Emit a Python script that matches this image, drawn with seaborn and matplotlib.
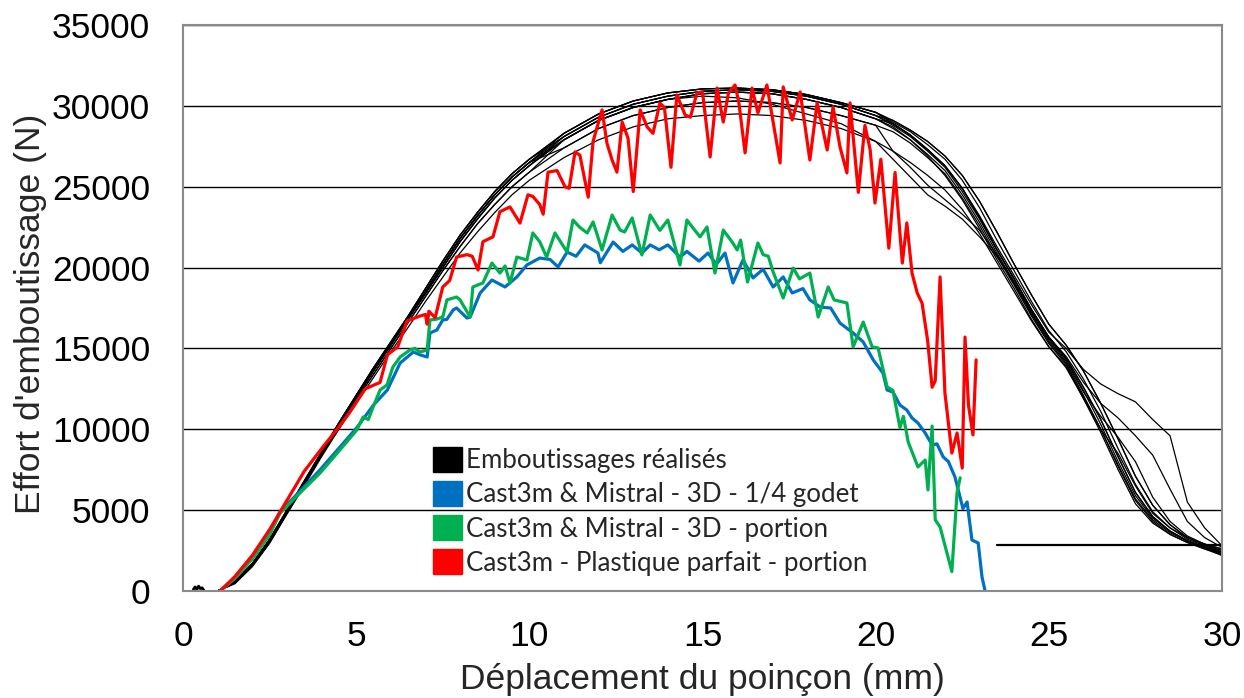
import matplotlib
matplotlib.use("Agg")
import matplotlib.pyplot as plt
from matplotlib.patches import Patch
import seaborn as sns
import pandas as pd

sns.set_theme(style="white")
plt.rcParams['font.family'] = ['Liberation Sans', 'DejaVu Sans']

# ---------------- data ----------------
x_ticks = [0, 5, 10, 15, 20, 25, 30]
y_ticks = [0, 5000, 10000, 15000, 20000, 25000, 30000, 35000]
legend_labels = ["Emboutissages réalisés",
                 "Cast3m & Mistral - 3D - 1/4 godet",
                 "Cast3m & Mistral - 3D - portion",
                 "Cast3m - Plastique parfait - portion"]
legend_colors = ["#000000", "#0070C0", "#00B050", "#FF0000"]

# experimental curves: common displacement grid
exp_x = [1.0, 1.5, 2, 2.5, 3, 3.5, 4, 4.5, 5, 5.5, 6, 6.5, 7, 7.5, 8, 8.5, 9, 9.5, 10,
         11, 12, 13, 14, 15, 16, 17, 18, 19, 20,
         20.5, 21, 21.5, 22, 22.5, 23, 23.5, 24, 24.5, 25, 25.5, 26, 26.5, 27, 27.5,
         28, 28.5, 29, 29.5, 30]
# rising part (x = 1 .. 10)
rise1 = [0, 600, 1700, 3200, 5000, 6800, 8600, 10400, 12100, 13800, 15400, 17000, 18700, 20400, 22000, 23400, 24700, 25800, 26700]
rise2 = [0, 550, 1650, 3100, 4900, 6700, 8500, 10300, 12000, 13700, 15300, 16900, 18500, 20200, 21800, 23200, 24500, 25600, 26500]
rise3 = [0, 500, 1600, 3050, 4850, 6650, 8450, 10250, 11950, 13600, 15200, 16800, 18400, 20000, 21600, 23000, 24300, 25400, 26300]
rise4 = [0, 500, 1550, 3000, 4800, 6600, 8400, 10100, 11800, 13400, 15000, 16600, 18200, 19800, 21300, 22700, 23900, 25000, 25900]
rise5 = [0, 450, 1500, 2950, 4750, 6500, 8300, 10000, 11600, 13200, 14800, 16300, 17900, 19400, 20900, 22200, 23400, 24500, 25400]
# plateau (x = 11 .. 20)
mid1 = [28300, 29500, 30300, 30800, 31050, 31100, 31000, 30700, 30200, 29600]
mid2 = [28100, 29300, 30100, 30600, 30900, 31000, 30900, 30600, 30100, 29400]
mid3 = [27900, 29100, 29900, 30400, 30750, 30850, 30750, 30400, 29900, 29200]
mid4 = [27400, 28600, 29400, 29900, 30200, 30300, 30200, 29900, 29400, 28800]
mid5 = [26800, 27900, 28700, 29200, 29400, 29500, 29400, 29100, 28600, 27800]
mid_sh = [27900, 29100, 29900, 30400, 30600, 30500, 30100, 29500, 28900, 27800]
# descent (x = 20.5 .. 30)
tail_a = [28700, 27900, 26900, 25700, 24200, 22400, 20500, 18700, 16800, 15100, 13800, 11900, 9800, 7500, 5400, 4200, 3500, 3000, 2600, 2300]
tail_b = [28900, 28200, 27300, 26300, 24900, 23100, 21100, 19300, 17400, 15700, 14400, 12600, 10600, 8300, 6100, 4600, 3700, 3100, 2700, 2400]
tail_c = [29000, 28400, 27600, 26700, 25400, 23700, 21700, 19800, 17900, 16100, 14800, 13100, 11100, 8800, 6600, 4900, 3900, 3200, 2800, 2500]
tail_d = [29100, 28500, 27800, 26900, 25700, 24100, 22200, 20200, 18300, 16500, 15200, 13600, 11600, 9400, 7100, 5300, 4100, 3300, 2900, 2600]
tail_bump = [28900, 28200, 27300, 26300, 24900, 23200, 21300, 19500, 17700, 16000, 15000, 13700, 12800, 12200, 11700, 10600, 9600, 5500, 3900, 2800]
tail_late1 = [28800, 28100, 27200, 26200, 24700, 23000, 21100, 19300, 17400, 15700, 14500, 12900, 11600, 10700, 9600, 8400, 6300, 4300, 3300, 2700]
tail_late2 = [28600, 27900, 27000, 26000, 24500, 22800, 20900, 19100, 17200, 15500, 14200, 12300, 10800, 9500, 8000, 5800, 4300, 3400, 2900, 2500]
tail_late3 = [28400, 27700, 26800, 25800, 24300, 22600, 20700, 18900, 17000, 15300, 14000, 11900, 10000, 8500, 6500, 4800, 3900, 3300, 2800, 2400]
tail_low = [27200, 26500, 25700, 24800, 23600, 22100, 20300, 18500, 16700, 15100, 13900, 12000, 10000, 7800, 5700, 4400, 3600, 3100, 2700, 2200]
tail_sh1 = [26700, 25600, 24500, 23800, 23000, 21900, 20700, 19100, 17300, 15600, 14300, 12400, 10300, 8000, 5900, 4500, 3700, 3100, 2700, 2300]
tail_sh2 = [27200, 26200, 25100, 24200, 23300, 22300, 20800, 19000, 17100, 15400, 14100, 12100, 10000, 7700, 5600, 4300, 3500, 3000, 2600, 2200]

exp_curves = [
    rise1 + mid1 + tail_c,
    rise2 + mid2 + tail_b,
    rise3 + mid3 + tail_a,
    rise1 + mid2 + tail_d,
    rise2 + mid1 + tail_bump,
    rise3 + mid2 + tail_late1,
    rise4 + mid3 + tail_late2,
    rise2 + mid4 + tail_late3,
    rise5 + mid5 + tail_low,
    rise3 + mid_sh + tail_sh1,
    rise4 + mid4 + tail_sh2,
    rise2 + mid3 + tail_b,
    rise1 + mid1 + tail_d,
]
flat_x = [23.5, 30.0]
flat_y = [2850, 2850]
start_x = [0.3, 0.35, 0.4, 0.45, 0.5, 0.55, 0.6]
start_y = [100, 250, 100, 300, 150, 200, 50]

red_x = [1.07, 1.5, 2.0, 2.5, 3.0, 3.5, 4.0, 4.45, 4.8, 5.26, 5.69, 5.9, 6.2, 6.47, 6.84, 7.0, 7.05, 7.1, 7.28,
         7.5, 7.7, 7.9, 8.2, 8.35, 8.52, 8.66, 8.95, 9.15, 9.44, 9.73, 9.96, 10.1, 10.3, 10.4, 10.54, 10.8,
         11.03, 11.15, 11.32, 11.46, 11.7, 11.84, 12.1, 12.24, 12.39, 12.53, 12.68, 12.85, 13.0, 13.2, 13.4,
         13.57, 13.77, 13.9, 14.09, 14.26, 14.5, 14.65, 14.84, 15.0, 15.22, 15.42, 15.6, 15.75, 15.94, 16.05,
         16.23, 16.43, 16.6, 16.86, 17.0, 17.24, 17.33, 17.59, 17.82, 18.1, 18.31, 18.45, 18.6, 18.77, 18.97,
         19.17, 19.26, 19.5, 19.69, 19.84, 19.98, 20.15, 20.38, 20.56, 20.77, 20.9, 21.05, 21.2, 21.34, 21.5,
         21.63, 21.72, 21.86, 22.0, 22.2, 22.35, 22.5, 22.58, 22.68, 22.81, 22.9]
red_y = [0, 900, 2200, 3800, 5600, 7400, 8800, 10000, 11000, 12500, 12900, 14600, 15100, 16700, 17000, 17100, 16500, 17300, 16900,
         18800, 19200, 20650, 20800, 20700, 19850, 21600, 21900, 23450, 23750, 22750, 24500, 24400, 23900, 23300, 25900, 26000,
         25000, 24900, 27150, 26950, 24350, 27800, 29750, 27700, 26650, 25900, 29000, 28000, 24700, 29750, 28700,
         28300, 30170, 29900, 26200, 30670, 29430, 29300, 30800, 30860, 26840, 31100, 29000, 30800, 31290, 30200,
         27090, 31100, 29560, 31290, 29500, 26470, 31170, 29130, 30860, 26650, 30180, 28800, 27270, 29930, 27460,
         25850, 30180, 24650, 28800, 27300, 23990, 26700, 21200, 25880, 20280, 22760, 19660, 18430, 17800, 15500,
         12600, 13000, 19420, 12240, 8530, 9770, 7600, 15700, 11500, 9650, 14290]

green_x = [1.07, 1.5, 2.0, 2.5, 2.8, 3.3, 3.96, 4.53, 5.02, 5.2, 5.35, 5.49, 5.69, 5.89, 6.06, 6.27, 6.55, 6.7, 6.84,
           7.05, 7.13, 7.3, 7.5, 7.62, 7.9, 8.0, 8.29, 8.37, 8.66, 8.92, 9.15, 9.3, 9.44, 9.64, 9.93, 10.1, 10.3,
           10.5, 10.74, 11.09, 11.26, 11.45, 11.67, 11.84, 12.1, 12.39, 12.62, 12.75, 12.97, 13.25, 13.49, 13.77,
           14.0, 14.35, 14.55, 14.78, 14.93, 15.13, 15.36, 15.6, 15.85, 16.0, 16.1, 16.3, 16.6, 16.75, 16.9, 17.04,
           17.33, 17.62, 17.8, 18.1, 18.34, 18.63, 18.8, 19.17, 19.35, 19.64, 19.9, 20.07, 20.33, 20.5, 20.7, 20.8,
           20.94, 21.22, 21.43, 21.51, 21.63, 21.72, 21.86, 22.2, 22.35, 22.44]
green_y = [0, 800, 2000, 3500, 4800, 5900, 7300, 8720, 9960, 10760, 10600, 11380, 12430, 12740, 13850, 14470, 14900, 15000, 14780,
           14900, 16760, 16800, 16940, 18000, 18180, 18000, 16940, 18800, 19050, 20280, 19660, 20100, 19050, 20650, 20470, 22140, 21600,
           20650, 22140, 20960, 22940, 22500, 22140, 22820, 21090, 23250, 22320, 22200, 23070, 20780, 23250, 22300,
           22940, 20160, 22940, 22300, 21900, 22510, 19660, 22320, 21600, 21090, 21700, 19110, 21520, 20800, 20700, 19730,
           18120, 19970, 19300, 19660, 16940, 18800, 18000, 17810, 15090, 16630, 15090, 15030, 12620, 12400, 10100, 10800,
           9210, 7670, 8100, 6250, 10200, 4400, 3960, 1200, 6100, 7000]

blue_x = [1.07, 1.5, 2.0, 2.5, 2.8, 3.3, 3.96, 4.53, 5.02, 5.5, 5.9, 6.27, 6.65, 6.85, 7.05, 7.13, 7.33, 7.5, 7.62,
          7.8, 7.9, 8.2, 8.29, 8.58, 8.92, 9.3, 9.64, 9.93, 10.3, 10.6, 10.83, 11.09, 11.35, 11.6, 11.98, 12.05,
          12.42, 12.7, 12.97, 13.25, 13.49, 13.75, 14.0, 14.35, 14.55, 14.9, 15.16, 15.4, 15.65, 15.88, 16.17,
          16.46, 16.75, 17.04, 17.33, 17.59, 17.9, 18.1, 18.4, 18.7, 18.97, 19.35, 19.64, 19.93, 20.21, 20.33,
          20.5, 20.7, 20.9, 21.05, 21.22, 21.43, 21.63, 21.77, 21.95, 22.1, 22.29, 22.52, 22.64, 22.78, 22.96,
          23.07, 23.16]
blue_y = [0, 800, 2000, 3500, 4900, 6000, 7500, 8900, 10100, 11500, 12430, 14100, 14780, 14600, 14470, 15950, 16140, 16760, 16800,
          17380, 17500, 16880, 16940, 18430, 19230, 18800, 19420, 20160, 20590, 20500, 20040, 20960, 20700, 21400, 20900, 20300,
          21580, 21000, 21400, 20900, 21400, 21100, 21400, 20650, 21000, 20400, 20900, 20200, 20900, 19050, 20470,
          19360, 19900, 18800, 19420, 18430, 18700, 18000, 17560, 17500, 16570, 15950, 15400, 14290, 13480, 12430,
          12300, 11500, 11190, 10700, 10390, 9770, 9030, 9100, 8290, 8000, 7050, 5100, 5500, 3150, 2970,
          870, 0]

# ---------------- figure ----------------
fig = plt.figure(figsize=(12.44, 6.98), dpi=100)
ax = fig.add_axes([183 / 1244, 1 - 591 / 698, (1222 - 183) / 1244, (591 - 25) / 698])

for yy in exp_curves:
    sns.lineplot(x=exp_x, y=yy, ax=ax, color="black", lw=0.9, sort=False, estimator=None)
sns.lineplot(x=flat_x, y=flat_y, ax=ax, color="black", lw=1.6, sort=False, estimator=None)
sns.lineplot(x=start_x, y=start_y, ax=ax, color="black", lw=2.0, sort=False, estimator=None)

sns.lineplot(x=blue_x, y=blue_y, ax=ax, color="#0070C0", lw=2.3, sort=False, estimator=None)
sns.lineplot(x=green_x, y=green_y, ax=ax, color="#00B050", lw=2.3, sort=False, estimator=None)
sns.lineplot(x=red_x, y=red_y, ax=ax, color="#FF0000", lw=2.3, sort=False, estimator=None)

ax.set_xlim(0, 30)
ax.set_ylim(0, 35000)
ax.set_xticks(x_ticks)
ax.set_yticks(y_ticks)
ax.set_xticklabels([str(v) for v in x_ticks])
ax.set_yticklabels([str(v) for v in y_ticks])
ax.tick_params(axis='both', length=0, labelsize=25.5, colors='black')
ax.tick_params(axis='y', pad=23.5)
ax.tick_params(axis='x', pad=21)
ax.yaxis.grid(True, color='black', lw=1.0)
ax.xaxis.grid(False)
ax.set_axisbelow(True)
for s in ax.spines.values():
    s.set_color('#8a8a8a')
    s.set_linewidth(1.5)
    s.set_visible(True)

ax.set_xlabel("Déplacement du poinçon (mm)", fontsize=25.5)
ax.set_ylabel("Effort d'emboutissage (N)", fontsize=25.5)
ax.xaxis.set_label_coords(0.5, -0.127)
ax.yaxis.set_label_coords(-0.131, 0.49)

handles = [Patch(facecolor=c, edgecolor=c) for c in legend_colors]
leg = fig.legend(handles, legend_labels, loc='upper left',
                 bbox_to_anchor=(433 / 1244, 1 - 447 / 698), frameon=False,
                 borderpad=0, borderaxespad=0, handlelength=1.12, handleheight=1.12,
                 handletextpad=0.15, labelspacing=0.3,
                 prop={'family': ['Lato', 'DejaVu Sans'], 'size': 18.6})

fig.savefig("out.png", dpi=100)
